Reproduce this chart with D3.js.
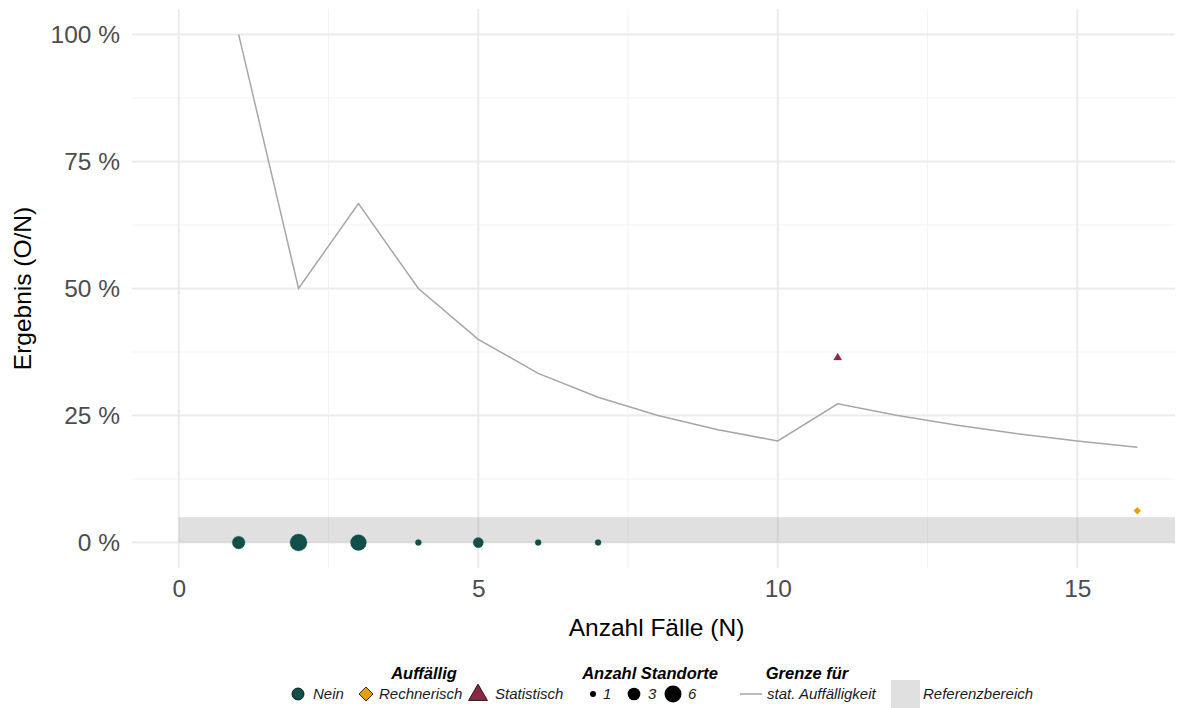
<!DOCTYPE html>
<html>
<head>
<meta charset="utf-8">
<script src="https://cdn.jsdelivr.net/npm/d3@7"></script>
<style>
  body { margin: 0; background: #fff; }
  svg { font-family: "Liberation Sans", Arial, sans-serif; }
</style>
</head>
<body>
<svg id="chart" width="1183" height="708"></svg>
<script>
"use strict";
var width = 1183;
var height = 708;

// Grenze fuer stat. Auffaelligkeit, per Fallzahl N
var limitN = [1, 2, 3, 4, 5, 6, 7, 8, 9, 10, 11, 12, 13, 14, 15, 16];
var limitValue = [100, 50, 66.7, 50, 40, 33.3, 28.6, 25, 22.2, 20, 27.3, 25, 23.1, 21.4, 20, 18.75];

// Standorte: Fallzahl, Ergebnis (%), Auffaelligkeit, Anzahl Standorte
var siteN = [1, 2, 3, 4, 5, 6, 7, 11, 16];
var siteValue = [0, 0, 0, 0, 0, 0, 0, 36.4, 6.25];
var siteFlag = ["Nein", "Nein", "Nein", "Nein", "Nein", "Nein", "Nein", "Statistisch", "Rechnerisch"];
var siteCount = [3, 6, 5, 1, 2, 1, 1, 1, 1];

var refRange = [0, 5];
var xTicks = [0, 5, 10, 15];
var xMinor = [2.5, 7.5, 12.5];
var yTicks = [0, 25, 50, 75, 100];
var yMinor = [12.5, 37.5, 62.5, 87.5];

var flagLabels = ["Nein", "Rechnerisch", "Statistisch"];
var flagColors = ["#124f4b", "#e69f00", "#8b2942"];
var sizeBreaks = [1, 3, 6];

var panel = { left: 132, right: 1175, top: 9, bottom: 568 };

var x = d3.scaleLinear().domain([-0.78, 16.63]).range([panel.left, panel.right]);
var y = d3.scaleLinear().domain([-5, 105]).range([panel.bottom, panel.top]);
var color = d3.scaleOrdinal().domain(flagLabels).range(flagColors);
var size = d3.scaleLog().domain([1, 6]).range([3, 8.5]);

var svg = d3.select("#chart");

// grid
var grid = svg.append("g");
grid.selectAll(".ymin").data(yMinor).enter().append("line")
  .attr("x1", panel.left).attr("x2", panel.right)
  .attr("y1", function (d) { return y(d); }).attr("y2", function (d) { return y(d); })
  .attr("stroke", "#f3f3f3").attr("stroke-width", 1);
grid.selectAll(".xmin").data(xMinor).enter().append("line")
  .attr("y1", panel.top).attr("y2", panel.bottom)
  .attr("x1", function (d) { return x(d); }).attr("x2", function (d) { return x(d); })
  .attr("stroke", "#f3f3f3").attr("stroke-width", 1);
grid.selectAll(".ymaj").data(yTicks).enter().append("line")
  .attr("x1", panel.left).attr("x2", panel.right)
  .attr("y1", function (d) { return y(d); }).attr("y2", function (d) { return y(d); })
  .attr("stroke", "#ebebeb").attr("stroke-width", 2);
grid.selectAll(".xmaj").data(xTicks).enter().append("line")
  .attr("y1", panel.top).attr("y2", panel.bottom)
  .attr("x1", function (d) { return x(d); }).attr("x2", function (d) { return x(d); })
  .attr("stroke", "#ebebeb").attr("stroke-width", 2);

// Referenzbereich
svg.append("rect")
  .attr("x", x(0)).attr("width", panel.right - x(0))
  .attr("y", y(refRange[1])).attr("height", y(refRange[0]) - y(refRange[1]))
  .attr("fill", "#999").attr("fill-opacity", 0.3);

// Grenze line
var line = d3.line()
  .x(function (d, i) { return x(limitN[i]); })
  .y(function (d) { return y(d); });
svg.append("path")
  .datum(limitValue)
  .attr("d", line)
  .attr("fill", "none")
  .attr("stroke", "#a6a6a6")
  .attr("stroke-width", 1.5);

// symbols
var symbolFor = { "Nein": d3.symbolCircle, "Rechnerisch": d3.symbolDiamond2, "Statistisch": d3.symbolTriangle };
function symPath(flag, r) {
  var area = Math.PI * r * r;
  if (flag === "Rechnerisch") area = area * 1.1;
  return d3.symbol().type(symbolFor[flag]).size(area)();
}

svg.selectAll(".pt").data(siteN).enter().append("path")
  .attr("d", function (d, i) { return symPath(siteFlag[i], size(siteCount[i])); })
  .attr("transform", function (d, i) { return "translate(" + x(d) + "," + y(siteValue[i]) + ")"; })
  .attr("fill", function (d, i) { return color(siteFlag[i]); })
  .attr("stroke", function (d, i) { return color(siteFlag[i]); })
  .attr("stroke-width", 0.3);

// axes
var fs = 24.5;
var xAxis = d3.axisBottom(x).tickValues(xTicks).tickSize(0).tickPadding(10);
var gx = svg.append("g").attr("transform", "translate(0," + (panel.bottom + 2) + ")").call(xAxis);
gx.select(".domain").remove();
gx.selectAll("text").attr("font-size", fs).attr("fill", "#4d4d4d").attr("font-family", "Liberation Sans, Arial, sans-serif");

var yAxis = d3.axisLeft(y).tickValues(yTicks).tickSize(0).tickPadding(12)
  .tickFormat(function (d) { return d + " %"; });
var gy = svg.append("g").attr("transform", "translate(" + panel.left + ",0)").call(yAxis);
gy.select(".domain").remove();
gy.selectAll("text").attr("font-size", fs).attr("fill", "#4d4d4d").attr("font-family", "Liberation Sans, Arial, sans-serif");

svg.append("text")
  .attr("x", (panel.left + panel.right) / 2 + 3).attr("y", 636)
  .attr("text-anchor", "middle").attr("font-size", fs).attr("fill", "#000")
  .text("Anzahl Fälle (N)");
svg.append("text")
  .attr("transform", "translate(31," + ((panel.top + panel.bottom) / 2) + ") rotate(-90)")
  .attr("text-anchor", "middle").attr("font-size", fs).attr("fill", "#000")
  .text("Ergebnis (O/N)");

// legend
var leg = svg.append("g").attr("font-style", "italic");
var ly = 694;
function title(t, cx) {
  leg.append("text").attr("x", cx).attr("y", 679).attr("text-anchor", "middle")
    .attr("font-size", 16.5).attr("font-weight", "bold").text(t);
}
function label(t, lx) {
  leg.append("text").attr("x", lx).attr("y", ly + 5).attr("font-size", 15).attr("fill", "#1a1a1a").text(t);
}

title("Auffällig", 424);
var flagX = [298, 366, 478];
var flagTextX = [313, 379, 495];
flagLabels.forEach(function (f, i) {
  leg.append("path")
    .attr("d", symPath(f, f === "Statistisch" ? 7 : 6))
    .attr("transform", "translate(" + flagX[i] + "," + (ly + (f === "Statistisch" ? 1 : 0)) + ")")
    .attr("fill", color(f)).attr("stroke", "#000").attr("stroke-width", 0.8);
  label(f, flagTextX[i]);
});

title("Anzahl Standorte", 650);
var sizeX = [593, 634, 673];
var sizeTextX = [603, 648, 688];
sizeBreaks.forEach(function (s, i) {
  leg.append("circle").attr("cx", sizeX[i]).attr("cy", ly).attr("r", size(s)).attr("fill", "#000");
  label(String(s), sizeTextX[i]);
});

title("Grenze für", 807);
leg.append("line").attr("x1", 740).attr("x2", 762).attr("y1", ly).attr("y2", ly)
  .attr("stroke", "#a6a6a6").attr("stroke-width", 1.5);
label("stat. Auffälligkeit", 767);
leg.append("rect").attr("x", 891).attr("y", ly - 14).attr("width", 29).attr("height", 29)
  .attr("fill", "#999").attr("fill-opacity", 0.3);
label("Referenzbereich", 923);
</script>
</body>
</html>
